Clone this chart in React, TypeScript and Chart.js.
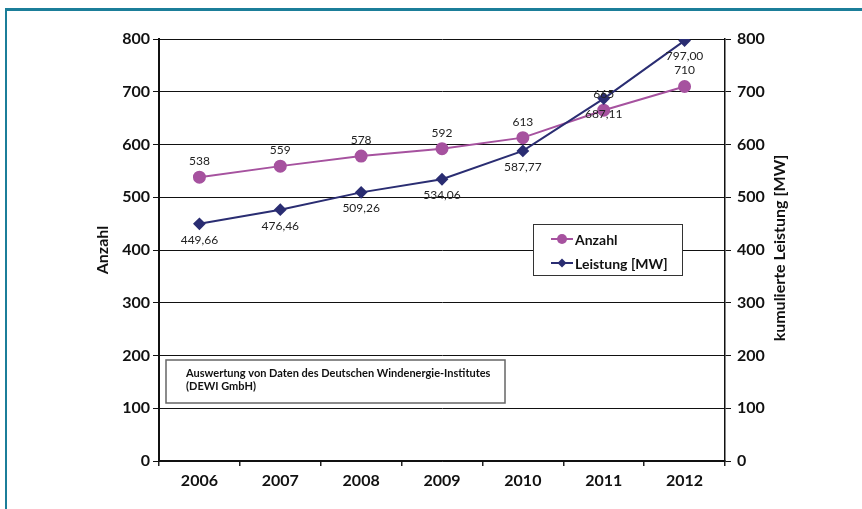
import React, { useEffect, useRef } from "react";
import { Chart, registerables } from "chart.js";

Chart.register(...registerables);

const years = ["2006", "2007", "2008", "2009", "2010", "2011", "2012"];
const anzahl = [538, 559, 578, 592, 613, 665, 710];
const leistung = [449.66, 476.46, 509.26, 534.06, 587.77, 687.11, 797.0];
const yTicks = [0, 100, 200, 300, 400, 500, 600, 700, 800];
const seriesNames = ["Anzahl", "Leistung [MW]"];
const leftTitle = "Anzahl";
const rightTitle = "kumulierte Leistung [MW]";
const noteLines = [
  "Auswertung von Daten des Deutschen Windenergie-Institutes",
  "(DEWI GmbH)",
];

const PINK = "#a6529f";
const NAVY = "#2a2d72";
const TEAL = "#1b7e99";
const FONT = "Lato, 'Open Sans', sans-serif";

const overlay = {
  id: "overlay",
  afterDatasetsDraw(chart: any) {
    const ctx = chart.ctx;
    const ys = chart.scales.y;
    const meta0 = chart.getDatasetMeta(0);
    const meta1 = chart.getDatasetMeta(1);
    ctx.save();
    // data labels
    ctx.fillStyle = "#222";
    ctx.font = `12px ${FONT}`;
    ctx.textAlign = "center";
    ctx.textBaseline = "middle";
    meta0.data.forEach((pt: any, i: number) => {
      ctx.fillText(String(anzahl[i]), pt.x, pt.y - 16);
    });
    meta1.data.forEach((pt: any, i: number) => {
      ctx.fillText(leistung[i].toFixed(2).replace(".", ","), pt.x, pt.y + 16);
    });

    // legend box
    const lx = 533, ly = 224, lw = 149, lh = 51;
    ctx.fillStyle = "#fff";
    ctx.fillRect(lx, ly, lw, lh);
    ctx.strokeStyle = "#333";
    ctx.lineWidth = 1;
    ctx.strokeRect(lx + 0.5, ly + 0.5, lw, lh);
    const rows = [
      { y: 239, color: PINK, style: "circle", r: 5 },
      { y: 263, color: NAVY, style: "rectRot", r: 4.5 },
    ];
    rows.forEach((row, i) => {
      ctx.strokeStyle = row.color;
      ctx.lineWidth = 2;
      ctx.beginPath();
      ctx.moveTo(551, row.y);
      ctx.lineTo(573, row.y);
      ctx.stroke();
      ctx.fillStyle = row.color;
      ctx.beginPath();
      if (row.style === "circle") {
        ctx.arc(562, row.y, row.r, 0, Math.PI * 2);
      } else {
        ctx.moveTo(562, row.y - row.r);
        ctx.lineTo(562 + row.r, row.y);
        ctx.lineTo(562, row.y + row.r);
        ctx.lineTo(562 - row.r, row.y);
        ctx.closePath();
      }
      ctx.fill();
      ctx.fillStyle = "#111";
      ctx.font = `bold 14px ${FONT}`;
      ctx.textAlign = "left";
      ctx.fillText(seriesNames[i], 575, row.y + 1);
    });

    // note box
    ctx.fillStyle = "#fff";
    ctx.fillRect(166, 360, 339, 43);
    ctx.strokeStyle = "#666";
    ctx.lineWidth = 1.5;
    ctx.strokeRect(166, 360, 339, 43);
    ctx.fillStyle = "#111";
    ctx.font = `bold 11px ${FONT}`;
    ctx.textAlign = "left";
    ctx.fillText(noteLines[0], 186, 373);
    ctx.fillText(noteLines[1], 186, 386);

    // axis titles
    const cy = (ys.top + ys.bottom) / 2;
    ctx.font = `bold 16px ${FONT}`;
    ctx.textAlign = "center";
    ctx.fillStyle = "#111";
    ctx.save();
    ctx.translate(103, cy);
    ctx.rotate(-Math.PI / 2);
    ctx.fillText(leftTitle, 0, 0);
    ctx.restore();
    ctx.save();
    ctx.translate(780, cy - 2);
    ctx.rotate(-Math.PI / 2);
    ctx.fillText(rightTitle, 0, 0);
    ctx.restore();

    // teal frame
    ctx.fillStyle = TEAL;
    ctx.fillRect(5, 8, 857, 3);
    ctx.fillRect(5, 8, 2, 501);
    ctx.restore();
  },
};

export default function App() {
  const ref = useRef<HTMLCanvasElement | null>(null);
  useEffect(() => {
    if (!ref.current) return;
    const tickFont = { family: FONT, size: 16, weight: "bold" as const };
    const chart = new Chart(ref.current, {
      type: "line",
      data: {
        labels: years,
        datasets: [
          {
            label: seriesNames[0],
            data: anzahl,
            yAxisID: "y",
            borderColor: PINK,
            backgroundColor: PINK,
            pointBackgroundColor: PINK,
            pointBorderColor: PINK,
            pointStyle: "circle",
            pointRadius: 5.5,
            borderWidth: 2,
            order: 1,
          },
          {
            label: seriesNames[1],
            data: leistung,
            yAxisID: "y2",
            borderColor: NAVY,
            backgroundColor: NAVY,
            pointBackgroundColor: NAVY,
            pointBorderColor: NAVY,
            pointStyle: "rectRot",
            pointRadius: 5,
            borderWidth: 2,
            order: 0,
          },
        ],
      },
      options: {
        responsive: false,
        animation: false,
        layout: { padding: { top: 39, left: 0, right: 0, bottom: 0 } },
        plugins: { legend: { display: false }, tooltip: { enabled: false } },
        scales: {
          x: {
            type: "category",
            offset: true,
            grid: {
              offset: true,
              drawOnChartArea: false,
              drawTicks: true,
              tickLength: 5,
              color: "#222",
              lineWidth: 1.5,
            },
            border: { color: "#111", width: 1.5 },
            ticks: { font: tickFont, color: "#111", padding: 5, maxRotation: 0 },
            afterFit: (s: any) => {
              s.height = 48;
            },
          },
          y: {
            position: "left",
            min: 0,
            max: 800,
            afterBuildTicks: (s: any) => {
              s.ticks = yTicks.map((v) => ({ value: v }));
            },
            grid: { color: "#111", lineWidth: 1, tickLength: 6 },
            border: { color: "#111", width: 2 },
            ticks: { font: tickFont, color: "#111", padding: 3 },
            afterFit: (s: any) => {
              s.width = 159;
            },
          },
          y2: {
            position: "right",
            min: 0,
            max: 800,
            afterBuildTicks: (s: any) => {
              s.ticks = yTicks.map((v) => ({ value: v }));
            },
            grid: { drawOnChartArea: false, color: "#111", lineWidth: 1, tickLength: 6 },
            border: { color: "#111", width: 1.5 },
            ticks: { font: tickFont, color: "#111", padding: 6 },
            afterFit: (s: any) => {
              s.width = 137;
            },
          },
        },
      },
      plugins: [overlay],
    });
    return () => chart.destroy();
  }, []);
  return (
    <div style={{ position: "absolute", left: 0, top: 0, width: 862, height: 509, background: "#fff" }}>
      <canvas ref={ref} width={862} height={509} style={{ display: "block" }} />
    </div>
  );
}
